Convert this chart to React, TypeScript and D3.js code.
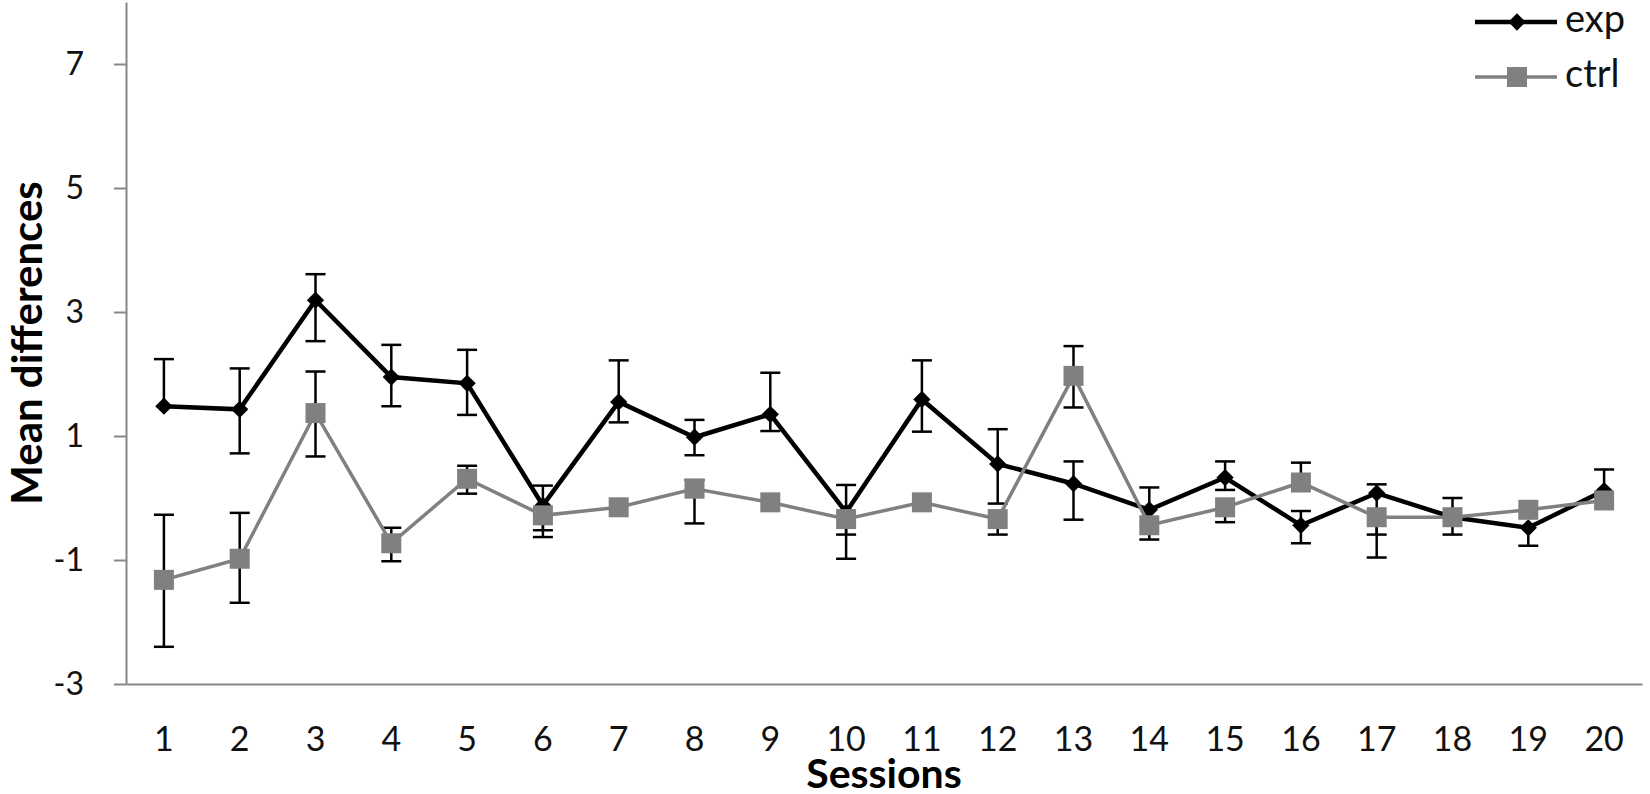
import { useEffect, useRef } from 'react';
import * as d3 from 'd3';

// chart values
const sessions = ['1', '2', '3', '4', '5', '6', '7', '8', '9', '10', '11', '12', '13', '14', '15', '16', '17', '18', '19', '20'];
const yTicks = [-3, -1, 1, 3, 5, 7];

const expMean = [1.48, 1.43, 3.19, 1.95, 1.85, -0.12, 1.55, 0.98, 1.35, -0.23, 1.59, 0.55, 0.23, -0.19, 0.33, -0.44, 0.08, -0.31, -0.48, 0.12];
const expUpper = [2.24, 2.09, 3.61, 2.47, 2.39, 0.2, 2.22, 1.26, 2.02, 0.21, 2.22, 1.11, 0.59, 0.17, 0.59, -0.21, 0.22, 0.0, -0.48, 0.46];
const expLower = [1.48, 0.72, 2.53, 1.48, 1.34, -0.52, 1.22, 0.69, 1.08, -0.59, 1.07, -0.09, -0.35, -0.19, 0.13, -0.73, -0.59, -0.59, -0.77, 0.12];

const ctrlMean = [-1.32, -0.98, 1.37, -0.73, 0.31, -0.28, -0.15, 0.15, -0.07, -0.34, -0.07, -0.34, 1.97, -0.44, -0.15, 0.25, -0.31, -0.31, -0.19, -0.04];
const ctrlUpper = [-0.27, -0.24, 2.04, -0.48, 0.52, -0.28, -0.15, 0.29, -0.07, -0.34, -0.07, -0.34, 2.45, -0.44, -0.15, 0.57, -0.31, -0.31, -0.19, -0.04];
const ctrlLower = [-2.4, -1.69, 0.67, -1.02, 0.07, -0.63, -0.15, -0.41, -0.07, -0.98, -0.07, -0.59, 1.46, -0.67, -0.39, 0.25, -0.96, -0.31, -0.19, -0.04];

const legendLabels = ['exp', 'ctrl'];

interface Pt {
  s: string;
  v: number;
  hi: number;
  lo: number;
}

const toPts = (m: number[], hi: number[], lo: number[]): Pt[] =>
  sessions.map((s, i) => ({ s, v: m[i], hi: hi[i], lo: lo[i] }));

export default function App() {
  const svgRef = useRef<SVGSVGElement>(null);

  useEffect(() => {
    // @ts-ignore
    const svg = d3.select<SVGSVGElement, unknown>(svgRef.current);
    svg.selectAll('*').remove();

    const font = 'Lato, "Open Sans", sans-serif';
    const axisColor = '#868686';
    const gray = '#808080';

    const x = d3.scaleBand<string>().domain(sessions).range([126, 1642]).padding(0);
    const cx = (s: string) => (x(s) as number) + x.bandwidth() / 2;
    const y = d3.scaleLinear().domain([-3, 8]).range([684, 2]);

    const exp = toPts(expMean, expUpper, expLower);
    const ctrl = toPts(ctrlMean, ctrlUpper, ctrlLower);

    // y axis (plain hyphen for negatives, like the source)
    const yAxis = svg
      .append('g')
      .attr('transform', 'translate(126,0)')
      .call(
        d3
          .axisLeft(y)
          .tickValues(yTicks)
          .tickSize(12)
          .tickSizeOuter(0)
          .tickPadding(30)
          .tickFormat(d => String(d))
      );
    yAxis.select('.domain').attr('stroke', axisColor).attr('stroke-width', 2);
    yAxis.selectAll('.tick line').attr('stroke', axisColor).attr('stroke-width', 2);
    yAxis.selectAll('.tick text').attr('font-family', font).attr('font-size', 32).attr('fill', '#111');

    // x axis
    const xAxis = svg
      .append('g')
      .attr('transform', 'translate(0,684)')
      .call(d3.axisBottom(x).tickSize(0).tickSizeOuter(0).tickPadding(43));
    xAxis.select('.domain').attr('stroke', axisColor).attr('stroke-width', 2);
    xAxis.selectAll('.tick text').attr('font-family', font).attr('font-size', 34).attr('fill', '#111');

    // axis titles
    svg
      .append('text')
      .attr('x', 884)
      .attr('y', 788)
      .attr('text-anchor', 'middle')
      .attr('font-family', font)
      .attr('font-weight', 'bold')
      .attr('font-size', 41)
      .text('Sessions');
    svg
      .append('text')
      .attr('transform', `translate(42,${(y(8) + y(-3)) / 2}) rotate(-90)`)
      .attr('text-anchor', 'middle')
      .attr('font-family', font)
      .attr('font-weight', 'bold')
      .attr('font-size', 42)
      .text('Mean differences');

    // error bars
    const drawErr = (data: Pt[]) => {
      const g = svg.append('g').attr('stroke', '#000').attr('stroke-width', 2.5);
      data.forEach(d => {
        const px = cx(d.s);
        g.append('line').attr('x1', px).attr('x2', px).attr('y1', y(d.hi)).attr('y2', y(d.lo));
        [d.hi, d.lo].forEach(b => {
          if (b === d.v) return;
          g.append('line').attr('x1', px - 10).attr('x2', px + 10).attr('y1', y(b)).attr('y2', y(b));
        });
      });
    };
    drawErr(exp);
    drawErr(ctrl);

    const line = d3
      .line<Pt>()
      .x(d => cx(d.s))
      .y(d => y(d.v));

    const diamond = d3.symbol().type(d3.symbolDiamond2).size(190);

    // exp series
    svg.append('path').datum(exp).attr('d', line).attr('fill', 'none').attr('stroke', '#000').attr('stroke-width', 4.5);
    svg
      .append('g')
      .selectAll('path')
      .data(exp)
      .enter()
      .append('path')
      .attr('d', diamond)
      .attr('transform', d => `translate(${cx(d.s)},${y(d.v)})`)
      .attr('fill', '#000');

    // ctrl series
    svg.append('path').datum(ctrl).attr('d', line).attr('fill', 'none').attr('stroke', gray).attr('stroke-width', 3.5);
    svg
      .append('g')
      .selectAll('rect')
      .data(ctrl)
      .enter()
      .append('rect')
      .attr('x', d => cx(d.s) - 10)
      .attr('y', d => y(d.v) - 10)
      .attr('width', 20)
      .attr('height', 20)
      .attr('fill', gray);

    // legend
    const legend = svg.append('g');
    legendLabels.forEach((label, i) => {
      const ly = 22 + i * 55;
      const col = i === 0 ? '#000' : gray;
      legend
        .append('line')
        .attr('x1', 1475)
        .attr('x2', 1557)
        .attr('y1', ly)
        .attr('y2', ly)
        .attr('stroke', col)
        .attr('stroke-width', i === 0 ? 4.5 : 3.5);
      if (i === 0) {
        legend.append('path').attr('d', diamond).attr('transform', `translate(1517,${ly})`).attr('fill', col);
      } else {
        legend.append('rect').attr('x', 1507).attr('y', ly - 10).attr('width', 20).attr('height', 20).attr('fill', col);
      }
      legend
        .append('text')
        .attr('x', 1565)
        .attr('y', ly + 10)
        .attr('font-family', font)
        .attr('font-size', 38)
        .attr('fill', '#111')
        .text(label);
    });
  }, []);

  return (
    <svg
      ref={svgRef}
      width={1650}
      height={794}
      style={{ position: 'absolute', left: 0, top: 0, background: '#fff' }}
    />
  );
}
